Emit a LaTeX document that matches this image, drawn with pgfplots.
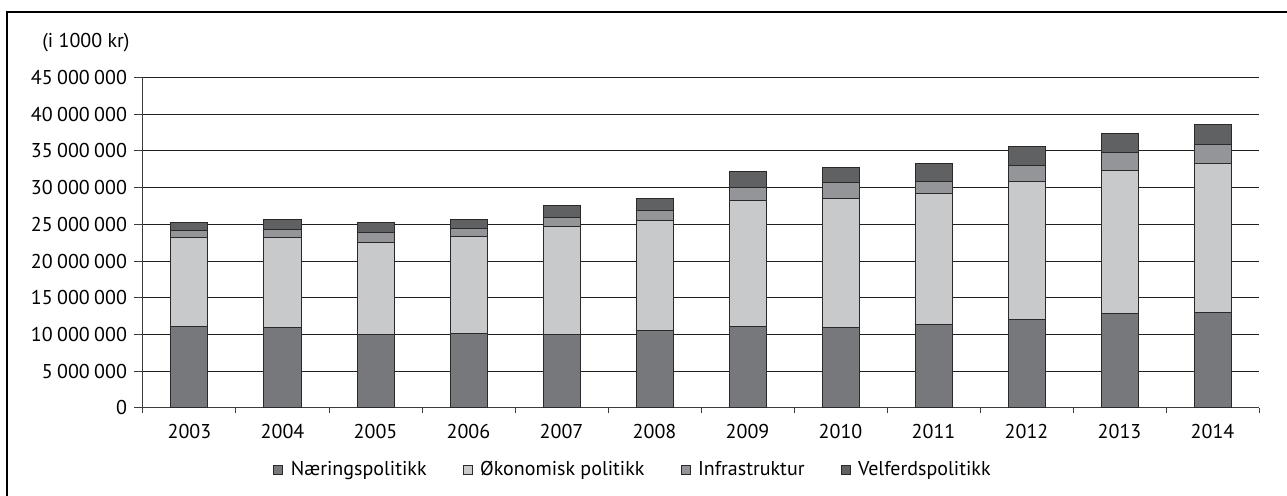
\documentclass[border=0pt]{standalone}
\usepackage{pgfplots}
\pgfplotsset{compat=1.18}
\usepackage{pgfplotstable}
\usepackage{fontspec}
\setmainfont{PT Sans}
\definecolor{cN}{HTML}{77787B}
\definecolor{cO}{HTML}{C8C9CB}
\definecolor{cI}{HTML}{939598}
\definecolor{cV}{HTML}{606163}
\definecolor{outc}{HTML}{2A2A2A}
\definecolor{gridc}{HTML}{231F20}
\definecolor{axc}{HTML}{3C3C3C}

\pgfplotstableread{
x N O I V
0 11050000 12150000 1000000 1000000
1 10950000 12250000 1100000 1400000
2 10000000 12600000 1300000 1300000
3 10100000 13300000 1000000 1300000
4 10000000 14650000 1350000 1600000
5 10550000 14950000 1400000 1600000
6 11050000 17150000 1850000 2100000
7 10900000 17650000 2100000 2050000
8 11300000 17900000 1700000 2400000
9 12050000 18750000 2200000 2550000
10 12800000 19500000 2500000 2600000
11 12950000 20350000 2600000 2650000
}\data

\pgfplotsset{
  mylegend/.style={legend image code/.code={\draw[##1,line width=0.5pt] (0pt,-2.25pt) rectangle (4.5pt,2.25pt); \path[draw=none,fill=none] (0pt,0pt) -- (6.5pt,0pt);}},
}

\begin{document}
\begin{tikzpicture}
\useasboundingbox (0,0) rectangle (643.5pt,248pt);
\draw[line width=1.1pt, black, line join=miter] (3.5pt,-2pt) -- (3.5pt,242pt) -- (646pt,242pt);
\node[anchor=base east, font=\fontsize{10}{12}\selectfont, inner sep=0pt] at (65pt,224.15pt) {(i 1000 kr)};
\begin{axis}[
  at={(71.5pt,44pt)}, anchor=south west,
  width=558pt, height=165.25pt, scale only axis,
  xmin=-0.5, xmax=11.5, ymin=0, ymax=45000000,
  ybar stacked, bar width=18.5pt,
  axis lines*=left,
  axis line style={line width=0.5pt, color=axc},
  tick style={line width=0.5pt, color=axc},
  tick align=outside, major tick length=4.5pt,
  ytick={0,5000000,10000000,15000000,20000000,25000000,30000000,35000000,40000000,45000000},
  ymajorgrids, grid style={line width=0.5pt, color=gridc},
  scaled y ticks=false,
  yticklabel style={/pgf/number format/.cd, fixed, 1000 sep={\hspace{0.22em}}, assume math mode=true},
  xtick={-0.5,0.5,1.5,2.5,3.5,4.5,5.5,6.5,7.5,8.5,9.5,10.5,11.5},
  x tick label as interval,
  xticklabels={2003,2004,2005,2006,2007,2008,2009,2010,2011,2012,2013,2014},
  x tick style={/pgfplots/major tick length=2.5pt},
  tick label style={font=\fontsize{10}{12}\selectfont},
  legend style={at={(0.44,-0.1876)}, anchor=center, draw=none, legend columns=4,
    font=\fontsize{10}{12}\selectfont,
    /tikz/every even column/.append style={column sep=16pt}},
  legend cell align=left,
]
\addplot[fill=cN, draw=outc, line width=0.5pt, mylegend] table[x=x,y=N]{\data};
\addplot[fill=cO, draw=outc, line width=0.5pt, mylegend] table[x=x,y=O]{\data};
\addplot[fill=cI, draw=outc, line width=0.5pt, mylegend] table[x=x,y=I]{\data};
\addplot[fill=cV, draw=outc, line width=0.5pt, mylegend] table[x=x,y=V]{\data};
\legend{Næringspolitikk, Økonomisk politikk, Infrastruktur, Velferdspolitikk}
\end{axis}
\end{tikzpicture}
\end{document}
